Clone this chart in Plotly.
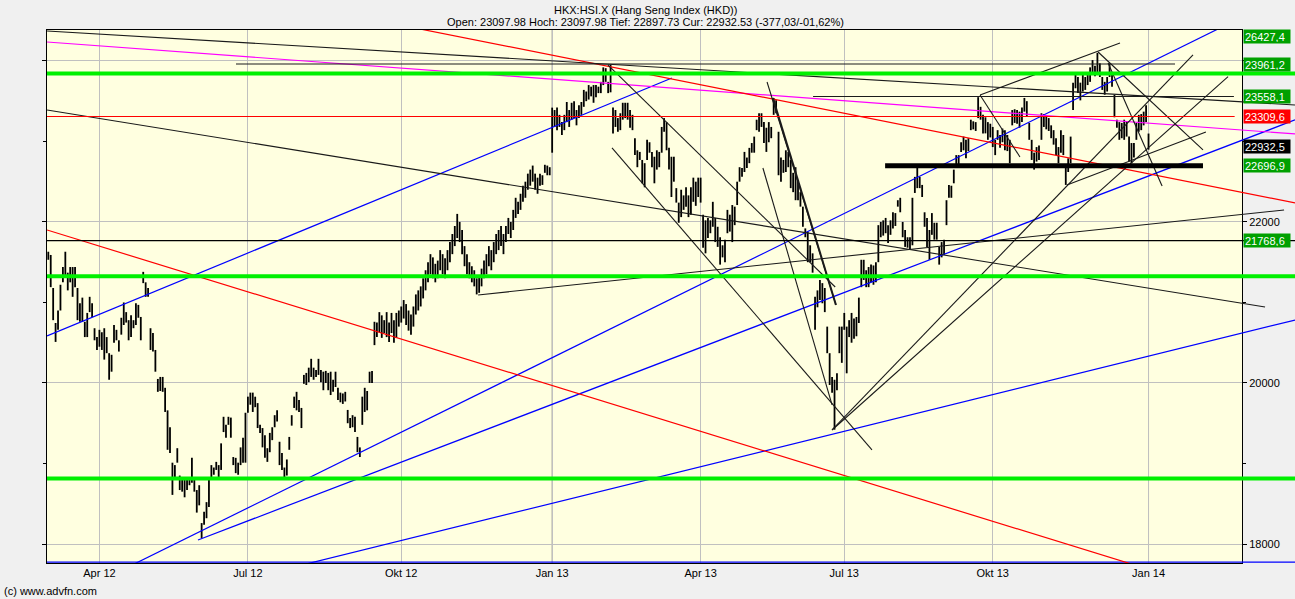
import plotly.graph_objects as go

# ---------------- price bars (low, high), one per trading day ----------------
bars_mar_may_2012 = [
    (21530, 21630), (21190, 21590), (20780, 21180), (20510, 20745), (20660, 20900),
    (20900, 21220), (21250, 21440), (21320, 21630), (21150, 21370), (21250, 21440),
    (21070, 21440), (21190, 21440), (20780, 21180), (20760, 20990), (20760, 21060),
    (20570, 20760), (20570, 20870), (20880, 21070), (20820, 20990), (20530, 20680),
    (20410, 20570), (20450, 20660), (20410, 20630), (20290, 20680), (20370, 20570),
    (20040, 20370), (20140, 20350), (20500, 20720), (20530, 20660), (20390, 20530),
    (20600, 20810), (20720, 21000), (20750, 20880), (20530, 20780), (20570, 20840),
    (20680, 20780), (20720, 20990), (20810, 20970), (20530, 20820), (21240, 21380),
    (21070, 21250), (21070, 21180), (20410, 20680), (20390, 20620), (20140, 20410),
    (19890, 20050), (19900, 20075),
]
bars_may_jul_2012 = [
    (19890, 20075), (19640, 19940), (19170, 19660), (19130, 19450), (18610, 19010),
    (18800, 18980), (19010, 19190), (18670, 18850), (18650, 18830), (18580, 18830),
    (18670, 18830), (18730, 18820), (18760, 19070), (18650, 18800), (18390, 18670),
    (18480, 18730), (18075, 18260), (18240, 18400), (18320, 18520), (18460, 18830),
    (18820, 18980), (18860, 18950), (18920, 19020), (18800, 18980), (18920, 19250),
    (19390, 19580), (19320, 19480), (19480, 19580), (19320, 19570), (18980, 19080),
    (18880, 19070), (18860, 19010), (18980, 19200), (19010, 19320), (19010, 19630),
    (19630, 19830), (19730, 19880), (19640, 19880), (19700, 19830), (19440, 19750),
    (19380, 19480), (19200, 19440), (19070, 19350), (19020, 19190), (19140, 19380),
    (19290, 19450), (19450, 19600), (19520, 19660),
]
bars_jul_sep_2012 = [
    (18980, 19270), (18920, 19130), (18800, 18950), (18850, 19050), (19170, 19330),
    (19470, 19600), (19690, 19830), (19660, 19890), (19640, 19790), (19440, 19690),
    (19990, 20100), (19975, 20125), (20010, 20190), (20075, 20300), (20040, 20190),
    (20075, 20160), (20100, 20300), (20010, 20160), (19910, 20140), (20000, 20150),
    (19910, 20125), (19850, 20140), (19890, 20040), (19950, 20140), (19790, 19940),
    (19760, 19880), (19740, 19870), (19770, 19890), (19500, 19665), (19440, 19565),
    (19450, 19600), (19390, 19580), (19140, 19330), (19080, 19200), (19480, 19830),
    (19640, 19940), (19660, 19900), (20000, 20140), (20000, 20150), (20470, 20760),
    (20570, 20750), (20630, 20880), (20560, 20840), (20620, 20780), (20570, 20880),
    (20510, 20750), (20620, 20870), (20500, 20780), (20560, 20870),
]
bars_oct_dec_2012 = [
    (20700, 20900), (20750, 20950), (20800, 21030), (20720, 20980), (20650, 20900),
    (20600, 20850), (20700, 20950), (20850, 21100), (20900, 21150), (20950, 21200),
    (21050, 21300), (21150, 21400), (21250, 21500), (21350, 21600), (21300, 21560),
    (21250, 21480), (21300, 21520), (21400, 21650), (21350, 21600), (21300, 21550),
    (21400, 21650), (21500, 21750), (21600, 21850), (21700, 21950), (21800, 22100),
    (21750, 22000), (21600, 21900), (21450, 21700), (21350, 21600), (21300, 21500),
    (21250, 21450), (21200, 21400), (21100, 21300), (21120, 21330), (21200, 21420),
    (21300, 21520), (21350, 21600), (21450, 21700), (21400, 21650), (21500, 21750),
    (21600, 21850), (21650, 21900), (21700, 21950), (21600, 21850), (21750, 21950),
    (21850, 22050), (21800, 22000), (21900, 22150), (22050, 22300), (22100, 22250),
    (22150, 22350), (22250, 22450), (22300, 22500), (22400, 22600), (22450, 22650),
    (22500, 22700), (22400, 22600), (22350, 22550), (22450, 22600), (22460, 22580),
    (22610, 22710), (22580, 22700), (22580, 22680),
]
bars_jan_feb_2013 = [
    (22860, 23420), (23180, 23390), (23140, 23420), (23180, 23330), (23080, 23240),
    (23140, 23330), (23240, 23490), (23180, 23390), (23270, 23480), (23290, 23500),
    (23200, 23390), (23290, 23450), (23330, 23490), (23430, 23640), (23500, 23620),
    (23520, 23700), (23560, 23680), (23480, 23700), (23550, 23700), (23600, 23680),
    (23600, 23740), (23700, 23920), (23740, 23910), (23600, 23740), (23610, 23950),
    (23100, 23420), (23180, 23390), (23120, 23290), (23140, 23350), (23270, 23480),
    (23290, 23480), (23270, 23480), (23170, 23390), (23140, 23330),
]
bars_feb_jul_2013 = [
    (22830, 23040), (22680, 22890), (22770, 22870), (22480, 22770), (22430, 22730),
    (22770, 23020), (22860, 22990), (22680, 22870), (22480, 22810), (22650, 22890),
    (22680, 22870), (22860, 23180), (23120, 23290), (22890, 23240), (22650, 22920),
    (22310, 22810), (22500, 22810), (22240, 22420), (21990, 22240), (22060, 22400),
    (22150, 22330), (22190, 22430), (22060, 22330), (22090, 22430), (22250, 22550),
    (22200, 22500), (22310, 22550), (22240, 22550), (21680, 22090), (21610, 22020),
    (21800, 22050), (21860, 22020), (21940, 22250), (21750, 22050), (21690, 21940),
    (21470, 21810), (21560, 21710), (21500, 21780), (21860, 22150), (21880, 22090),
    (21750, 22210), (21960, 22190), (22210, 22500), (22500, 22680), (22560, 22670),
    (22620, 22870), (22670, 22800), (22730, 22920), (22860, 22980), (22860, 23060),
    (23140, 23270), (23120, 23350), (23180, 23350), (22980, 23240), (22870, 23170),
    (22990, 23240), (23040, 23180), (23330, 23540), (23350, 23510), (22580, 23120),
    (22500, 22800), (22610, 22770), (22620, 22890), (22680, 22870), (22420, 22770),
    (22370, 22610), (22270, 22680), (22270, 22520), (22190, 22370), (21940, 22190),
    (21810, 21920), (21500, 21880), (21500, 21710), (21370, 21610), (20660, 21070),
    (20940, 21150), (21030, 21280), (20990, 21240), (20880, 21180), (20370, 20700),
    (19975, 20370), (19880, 20075), (19420, 20040), (19910, 20120), (20370, 20700),
    (20250, 20700), (20660, 20870), (20120, 20700), (20570, 20780), (20500, 20870),
    (20550, 20800), (20580, 20820), (20745, 21060), (21190, 21530), (21280, 21530),
    (21190, 21400), (21190, 21440), (21250, 21470), (21220, 21460), (21250, 21500),
]
bars_jul_dec_2013 = [
    (21500, 21960), (21810, 22000), (21830, 22020), (21860, 22050), (21740, 21960),
    (21840, 22020), (21920, 22120), (21950, 22110), (22190, 22270), (22120, 22300),
    (21810, 22000), (21690, 21900), (21680, 21810), (21650, 21810), (21710, 22300),
    (22360, 22560), (22420, 22680), (22420, 22560), (22310, 22460), (21940, 22120),
    (21690, 22050), (21530, 21900), (21840, 22110), (21780, 21990), (21780, 21990),
    (21470, 21690), (21560, 21750), (21590, 21780), (21960, 22270), (22300, 22460),
    (22300, 22450), (22480, 22650), (22710, 22830), (22720, 22830), (22870, 22990),
    (22890, 23060), (22790, 23020), (22880, 23040), (23140, 23270), (23150, 23250),
    (23130, 23240), (23290, 23550), (23270, 23430), (23100, 23330), (23100, 23300),
    (23020, 23240), (23050, 23220), (22930, 23180), (22830, 23020), (23020, 23140),
    (22920, 23080), (22990, 23160), (22890, 23140), (22880, 23080), (22730, 23020),
    (23200, 23390), (23230, 23400), (23220, 23390), (23170, 23370), (23240, 23420),
    (23370, 23540), (23310, 23500), (23020, 23230), (22770, 23020), (22650, 22860),
    (22750, 22930), (22770, 22950), (23020, 23350), (23180, 23340), (23150, 23320),
    (23130, 23290), (23040, 23200), (22960, 23140), (22830, 23040), (22730, 22930),
    (22860, 23140), (22830, 23080), (22460, 22670), (22620, 22790), (22730, 23060),
    (23390, 23730), (23660, 23860), (23600, 23800), (23510, 23730), (23620, 23850),
    (23640, 23800), (23700, 23860), (23740, 23920), (23830, 24010), (23810, 23940),
    (23860, 24100), (23800, 23970), (23640, 23800), (23580, 23740), (23620, 23800),
    (23800, 23970), (23680, 23850), (23300, 23580), (23170, 23270), (23020, 23240),
    (23040, 23230), (23020, 23270), (23060, 23250), (22750, 23060), (22730, 22980),
    (22800, 22980), (23020, 23230), (23120, 23330), (23140, 23340), (23200, 23370),
    (23240, 23450), (22897.73, 23097.98),
]

# ---------------- axes ----------------
tick_index = [21, 82, 145, 207, 268, 327, 388, 452]
tick_labels = ["Apr 12", "Jul 12", "Okt 12", "Jan 13", "Apr 13", "Jul 13", "Okt 13", "Jan 14"]
year_start_ticks = [207, 452]
x_range = [-0.53, 490.4]          # chart area
x_range_full = [-0.53, 512.2]     # same scale, through the right label column
y_range = [17764, 24384]
y_grid_values = [18000, 20000, 22000, 24000]
y_tick_labels = ["18000", "20000", "22000", ""]
plot_fraction = 1195 / 1248       # chart width / (chart + label column) width

# ---------------- drawn levels / trendlines (bar index, index value) ----------------
green_levels = [23845, 21325, 18815]
red_levels = [23309.6]
black_levels = [21768.6]
blue_levels = [17776]

black_segments = [
    (77.1, 23961.2, 462.9, 23961.2),
    (314.2, 23558.1, 487.1, 23558.1),
    (-0.5, 24372, 512.2, 23453),
    (-0.5, 23391, 499.9, 20944),
    (176.6, 21093, 507.7, 22149),
    (229.9, 23950, 323.3, 21192),
    (231.6, 22919, 338.4, 19168),
    (295.3, 23738, 323.6, 20969),
    (293.6, 22670, 322.0, 19727),
    (322.0, 19416, 470.3, 24074),
    (322.0, 19416, 484.7, 23805),
    (418.5, 22459, 475.6, 23118),
    (431.3, 24111, 474.4, 22894),
    (435.4, 23975, 457.6, 22447),
    (382.8, 23577, 440.3, 24223),
    (382.8, 23577, 399.2, 22807),
]
black_double_segments = [(297.7, 23540, 323.6, 20969)]
black_thick_segments = [(343.8, 22696.9, 474.4, 22696.9)]
red_segments = [(-0.5, 21900, 464.9, 17566), (144.5, 24446, 512.2, 22236)]
blue_segments = [
    (-0.5, 20584, 256.2, 23788),
    (21.2, 17541, 512.2, 24869),
    (61.5, 18050, 512.2, 23267),
    (99.3, 17702, 512.2, 20782),
]
pink_segments = [(-0.5, 24235, 512.2, 23093)]

# ---------------- right-hand value labels ----------------
label_values = [26427.4, 23961.2, 23558.1, 23309.6, 22932.5, 22696.9, 21768.6]
label_colors = ["#00A000", "#00A000", "#00A000", "#FF0000", "#000000", "#00A000", "#00A000"]

title_line1 = "HKX:HSI.X (Hang Seng Index (HKD))"
title_line2 = "Open: 23097.98 Hoch: 23097.98 Tief: 22897.73 Cur: 22932.53 (-377,03/-01,62%)"
footer = "(c) www.advfn.com"

# ======================================================================
bars = (bars_mar_may_2012 + bars_may_jul_2012 + bars_jul_sep_2012 + bars_oct_dec_2012
        + bars_jan_feb_2013 + bars_feb_jul_2013 + bars_jul_dec_2013)

fig = go.Figure()

bx, by = [], []
for i, (lo, hi) in enumerate(bars):
    bx += [i, i, None]
    by += [lo, hi, None]
fig.add_trace(go.Scatter(x=bx, y=by, mode="lines", line=dict(color="#000000", width=1.8),
                         hoverinfo="skip"))


def seg_trace(segs, color, width):
    xs, ys = [], []
    for x0, y0, x1, y1 in segs:
        xs += [x0, x1, None]
        ys += [y0, y1, None]
    fig.add_trace(go.Scatter(x=xs, y=ys, mode="lines", line=dict(color=color, width=width),
                             hoverinfo="skip", xaxis="x2", yaxis="y2"))


def level_segs(levels, x_end):
    return [(x_range[0] - 5, v, x_end, v) for v in levels]


seg_trace(level_segs(blue_levels, x_range_full[1] + 5), "#0000FF", 1.2)
seg_trace(blue_segments, "#0000FF", 1.2)
seg_trace(pink_segments, "#FF00FF", 1.2)
seg_trace(red_segments, "#FF0000", 1.2)
seg_trace(black_segments, "#1A1A1A", 1.1)
seg_trace(black_double_segments, "#1A1A1A", 2)
seg_trace(level_segs(black_levels, x_range_full[1] + 5), "#000000", 1.1)
seg_trace(level_segs(red_levels, x_range[1] - 3), "#FF0000", 1.2)
seg_trace(level_segs(green_levels, x_range_full[1] + 5), "#00F000", 4)
seg_trace(black_thick_segments, "#000000", 5)

# chart-area background (drawn as a shape so the overlay subplot stays transparent)
fig.add_shape(type="rect", xref="paper", yref="paper", x0=0, x1=plot_fraction, y0=0, y1=1,
              fillcolor="#FFFFE0", line=dict(width=0), layer="below")
for t in year_start_ticks:
    fig.add_shape(type="line", xref="x", yref="paper", x0=t, x1=t, y0=0, y1=1,
                  line=dict(color="#8C8C8C", width=1), layer="below")

for v, c in zip(label_values, label_colors):
    fig.add_annotation(x=plot_fraction, xref="paper", xanchor="left", xshift=1,
                       y=min(v, y_range[1] - 75), yref="y", yanchor="middle",
                       text=f"{v:.1f}".replace(".", ","), showarrow=False,
                       bgcolor=c, font=dict(color="#FFFFFF", size=11),
                       width=44, height=11, borderpad=1, align="left")

fig.add_annotation(x=(645 - 47) / 1248, y=1.0375, xref="paper", yref="paper",
                   text=title_line1, showarrow=False, font=dict(size=11, color="#000000"),
                   yanchor="middle")
fig.add_annotation(x=(645 - 47) / 1248, y=1.015, xref="paper", yref="paper",
                   text=title_line2, showarrow=False, font=dict(size=11, color="#000000"),
                   yanchor="middle")
fig.add_annotation(x=-45 / 1248, y=-0.0525, xref="paper", yref="paper", text=footer,
                   showarrow=False, font=dict(size=11, color="#000000"),
                   xanchor="left", yanchor="middle")

fig.update_layout(
    width=1295, height=599,
    margin=dict(l=47, r=0, t=30, b=36),
    paper_bgcolor="#F0F0F0", plot_bgcolor="rgba(0,0,0,0)",
    showlegend=False,
    font=dict(family="Liberation Sans, Arial, sans-serif", size=11, color="#000000"),
    xaxis=dict(domain=[0, plot_fraction], range=x_range, tickmode="array",
               tickvals=tick_index, ticktext=tick_labels,
               showgrid=True, gridcolor="#C0C0C0", gridwidth=1, zeroline=False,
               showline=True, linecolor="#000000", linewidth=1, mirror=True, ticks=""),
    yaxis=dict(range=y_range, side="right", tickmode="array", tickvals=y_grid_values,
               ticktext=y_tick_labels,
               showgrid=True, gridcolor="#C0C0C0", gridwidth=1, zeroline=False,
               showline=True, linecolor="#000000", linewidth=1, mirror="ticks",
               ticks="outside", ticklen=4, tickcolor="#000000",
               minor=dict(tickvals=[19000, 21000, 23000], ticks="outside", ticklen=3,
                          tickcolor="#000000", showgrid=False)),
    xaxis2=dict(domain=[0, 1], range=x_range_full, visible=False, anchor="y2"),
    yaxis2=dict(domain=[0, 1], range=y_range, visible=False, anchor="x2"),
)

fig.write_html("out.html", config={"displayModeBar": False},
               post_script="document.body.style.margin='0';")
